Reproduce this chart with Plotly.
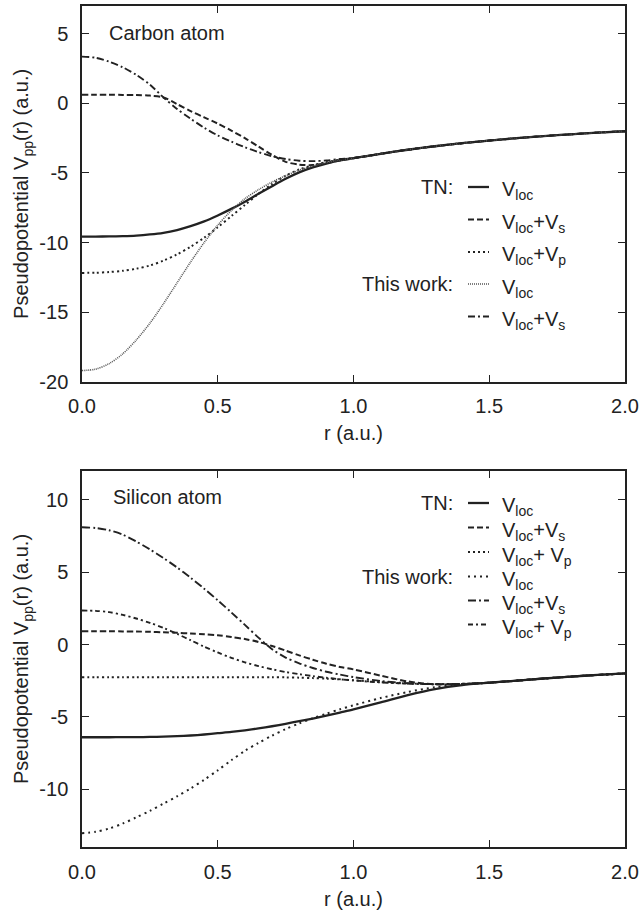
import plotly.graph_objects as go

# ---------------- data ----------------
r = [0.0, 0.05, 0.1, 0.15, 0.2, 0.25, 0.3, 0.35, 0.4, 0.45, 0.5, 0.55, 0.6, 0.65, 0.7,
     0.75, 0.8, 0.85, 0.9, 0.95, 1.0, 1.1, 1.2, 1.3, 1.4, 1.5, 1.6, 1.7, 1.8, 1.9, 2.0]

c_tail = [-3.62, -3.33, -3.08, -2.86, -2.67, -2.5, -2.35, -2.22, -2.1, -2.0]

carbon_tn_loc = [-9.57, -9.57, -9.56, -9.54, -9.5, -9.42, -9.3, -9.1, -8.82, -8.48, -8.05,
                 -7.58, -7.06, -6.5, -5.95, -5.42, -4.96, -4.6, -4.32, -4.1, -3.93] + c_tail
carbon_tn_s = [0.62, 0.62, 0.62, 0.61, 0.6, 0.56, 0.43, -0.05, -0.55, -1.0, -1.45,
               -1.95, -2.5, -3.1, -3.7, -4.2, -4.4, -4.43, -4.28, -4.1, -3.95] + c_tail
carbon_tn_p = [-12.18, -12.17, -12.12, -12.03, -11.88, -11.65, -11.3, -10.85, -10.3, -9.65, -8.9,
               -8.1, -7.3, -6.5, -5.8, -5.2, -4.75, -4.45, -4.22, -4.05, -3.93] + c_tail
carbon_tw_loc = [-19.2, -19.1, -18.7, -18.0, -17.0, -15.8, -14.4, -12.9, -11.4, -10.0, -8.75,
                 -7.7, -6.85, -6.2, -5.65, -5.2, -4.8, -4.5, -4.25, -4.07, -3.93] + c_tail
carbon_tw_s = [3.36, 3.28, 3.0, 2.6, 2.05, 1.35, 0.43, -0.4, -1.1, -1.75, -2.3,
               -2.75, -3.15, -3.5, -3.8, -4.0, -4.12, -4.15, -4.1, -4.0, -3.92] + c_tail

s_tail = [-2.5, -2.35, -2.22, -2.1, -2.0]

silicon_tn_loc = [-6.41, -6.41, -6.41, -6.4, -6.4, -6.39, -6.37, -6.34, -6.29, -6.22, -6.13,
                  -6.04, -5.93, -5.8, -5.65, -5.48, -5.3, -5.12, -4.92, -4.7, -4.48,
                  -4.0, -3.5, -3.08, -2.8, -2.64] + s_tail
silicon_tn_s = [0.92, 0.92, 0.92, 0.91, 0.9, 0.88, 0.85, 0.81, 0.76, 0.71, 0.64,
                0.52, 0.38, 0.18, -0.1, -0.42, -0.75, -1.05, -1.33, -1.55, -1.72,
                -2.15, -2.55, -2.75, -2.74, -2.64] + s_tail
silicon_tn_p = [-2.26, -2.26, -2.26, -2.26, -2.26, -2.26, -2.26, -2.26, -2.26, -2.26, -2.26,
                -2.26, -2.26, -2.26, -2.26, -2.27, -2.29, -2.32, -2.36, -2.41, -2.47,
                -2.6, -2.7, -2.74, -2.72, -2.64] + s_tail
silicon_tw_loc = [-13.05, -12.95, -12.72, -12.38, -11.95, -11.5, -11.0, -10.5, -9.95, -9.35, -8.7,
                  -8.0, -7.35, -6.8, -6.3, -5.85, -5.45, -5.1, -4.78, -4.48, -4.2,
                  -3.7, -3.28, -2.95, -2.76, -2.64] + s_tail
silicon_tw_s = [8.11, 8.06, 7.9, 7.6, 7.12, 6.58, 5.98, 5.33, 4.62, 3.86, 3.06,
                2.22, 1.36, 0.48, -0.32, -0.9, -1.3, -1.62, -1.88, -2.08, -2.25,
                -2.52, -2.68, -2.74, -2.72, -2.64] + s_tail
silicon_tw_p = [2.35, 2.33, 2.24, 2.05, 1.8, 1.5, 1.15, 0.74, 0.3, -0.15, -0.55,
                -0.92, -1.23, -1.49, -1.71, -1.9, -2.05, -2.18, -2.3, -2.4, -2.48,
                -2.62, -2.7, -2.74, -2.72, -2.64] + s_tail

x_ticks = [0.0, 0.5, 1.0, 1.5, 2.0]
x_tick_labels = ["0.0", "0.5", "1.0", "1.5", "2.0"]
carbon_y_ticks = [-20, -15, -10, -5, 0, 5]
carbon_y_labels = ["-20", "-15", "-10", "-5", "0", "5"]
silicon_y_ticks = [-10, -5, 0, 5, 10]
silicon_y_labels = ["-10", "-5", "0", "5", "10"]

carbon_legend = [("TN:", "V<sub>loc</sub>"), ("", "V<sub>loc</sub>+V<sub>s</sub>"),
                 ("", "V<sub>loc</sub>+V<sub>p</sub>"), ("This work:", "V<sub>loc</sub>"),
                 ("", "V<sub>loc</sub>+V<sub>s</sub>")]
silicon_legend = [("TN:", "V<sub>loc</sub>"), ("", "V<sub>loc</sub>+V<sub>s</sub>"),
                  ("", "V<sub>loc</sub>+ V<sub>p</sub>"), ("This work:", "V<sub>loc</sub>"),
                  ("", "V<sub>loc</sub>+V<sub>s</sub>"), ("", "V<sub>loc</sub>+ V<sub>p</sub>")]

# ---------------- styles ----------------
INK = "#222222"
FONT = "Liberation Sans, Arial, Helvetica, sans-serif"
W, H = 640, 913
ML, MR, MT, MB = 82, 15, 6, 66
PW, PH = W - ML - MR, H - MT - MB

st_solid = dict(color=INK, width=2.3, dash="solid")
st_dash = dict(color=INK, width=2.0, dash="6px,3px")
st_dot = dict(color=INK, width=2.0, dash="2px,3px")
st_fine = dict(color="#555555", width=1.6, dash="1px,1px")
st_dashdot = dict(color=INK, width=1.9, dash="7px,3px,2px,3px")
st_dot_si = dict(color=INK, width=2.0, dash="2px,4px")
st_dashdot_l = dict(color=INK, width=1.9, dash="8px,3px,2px,3px")
st_dashdot_s = dict(color=INK, width=1.9, dash="5px,3px,2px,3px")

carbon_series = [carbon_tn_loc, carbon_tn_s, carbon_tn_p, carbon_tw_loc, carbon_tw_s]
carbon_styles = [st_solid, st_dash, st_dot, st_fine, st_dashdot]
silicon_series = [silicon_tn_loc, silicon_tn_s, silicon_tn_p, silicon_tw_loc, silicon_tw_s, silicon_tw_p]
silicon_styles = [st_solid, st_dash, st_dot, st_dot_si, st_dashdot_l, st_dashdot_s]

fig = go.Figure()
for ys, stl in zip(carbon_series, carbon_styles):
    fig.add_trace(go.Scatter(x=r, y=ys, mode="lines", line=dict(shape="spline", smoothing=0.8, **stl),
                             xaxis="x", yaxis="y", showlegend=False, hoverinfo="skip"))
for ys, stl in zip(silicon_series, silicon_styles):
    fig.add_trace(go.Scatter(x=r, y=ys, mode="lines", line=dict(shape="spline", smoothing=0.8, **stl),
                             xaxis="x2", yaxis="y2", showlegend=False, hoverinfo="skip"))


def px(xp):
    return (xp - ML) / PW


def py(yp):
    return (H - MB - yp) / PH


top_dom = [py(381.7), 1.0]
bot_dom = [0.0, py(471)]

axis_common = dict(showline=True, linecolor=INK, linewidth=1.5, mirror="ticks", ticks="inside",
                   ticklen=7, tickwidth=1.2, tickcolor=INK, showgrid=False, zeroline=False,
                   automargin=False, tickmode="array",
                   tickfont=dict(family=FONT, size=20, color=INK),
                   title_font=dict(family=FONT, size=20, color=INK))

fig.update_layout(
    template="none",
    width=W, height=H, margin=dict(l=ML, r=MR, t=MT, b=MB, autoexpand=False),
    paper_bgcolor="white", plot_bgcolor="white", showlegend=False,
    font=dict(family=FONT, size=20, color=INK),
    xaxis=dict(domain=[0, 1], anchor="y", range=[0, 2], tickvals=x_ticks, ticktext=x_tick_labels,
               title=dict(text="r (a.u.)", standoff=10), ticklabelstandoff=6, **axis_common),
    yaxis=dict(domain=top_dom, anchor="x", range=[-20, 7], tickvals=carbon_y_ticks,
               ticktext=carbon_y_labels,
               title=dict(text="Pseudopotential V<sub>pp</sub>(r) (a.u.)", standoff=5),
               ticklabelstandoff=8, **axis_common),
    xaxis2=dict(domain=[0, 1], anchor="y2", range=[0, 2], tickvals=x_ticks, ticktext=x_tick_labels,
                title=dict(text="r (a.u.)", standoff=10), ticklabelstandoff=6, **axis_common),
    yaxis2=dict(domain=bot_dom, anchor="x2", range=[-14, 12], tickvals=silicon_y_ticks,
                ticktext=silicon_y_labels,
                title=dict(text="Pseudopotential V<sub>pp</sub>(r) (a.u.)", standoff=5),
                ticklabelstandoff=8, **axis_common),
)

annotations = []
shapes = []


def add_legend(rows, styles, ys_px):
    for (grp, lab), stl, yy in zip(rows, styles, ys_px):
        if grp:
            annotations.append(dict(x=px(455), y=py(yy), xref="paper", yref="paper", text=grp,
                                    showarrow=False, xanchor="right", yanchor="middle",
                                    font=dict(family=FONT, size=20, color=INK)))
        annotations.append(dict(x=px(500), y=py(yy + 4), xref="paper", yref="paper", text=lab,
                                showarrow=False, xanchor="left", yanchor="middle",
                                font=dict(family=FONT, size=20, color=INK)))
        shapes.append(dict(type="line", xref="paper", yref="paper", x0=px(468), x1=px(489),
                           y0=py(yy), y1=py(yy), line=dict(color=stl["color"], width=stl["width"],
                                                           dash=stl["dash"])))


add_legend(carbon_legend, carbon_styles, [187, 219.5, 252, 284, 316.5])
add_legend(silicon_legend, silicon_styles, [503, 527.5, 552, 576.5, 600.5, 624.5])

annotations.append(dict(x=px(107), y=py(33), xref="paper", yref="paper", text="Carbon atom",
                        showarrow=False, xanchor="left", yanchor="middle",
                        font=dict(family=FONT, size=20, color=INK)))
annotations.append(dict(x=px(111), y=py(497), xref="paper", yref="paper", text="Silicon atom",
                        showarrow=False, xanchor="left", yanchor="middle",
                        font=dict(family=FONT, size=20, color=INK)))

fig.update_layout(annotations=annotations, shapes=shapes)
fig.write_html("out.html", config={"displayModeBar": False},
               post_script="document.body.style.margin='0';")
